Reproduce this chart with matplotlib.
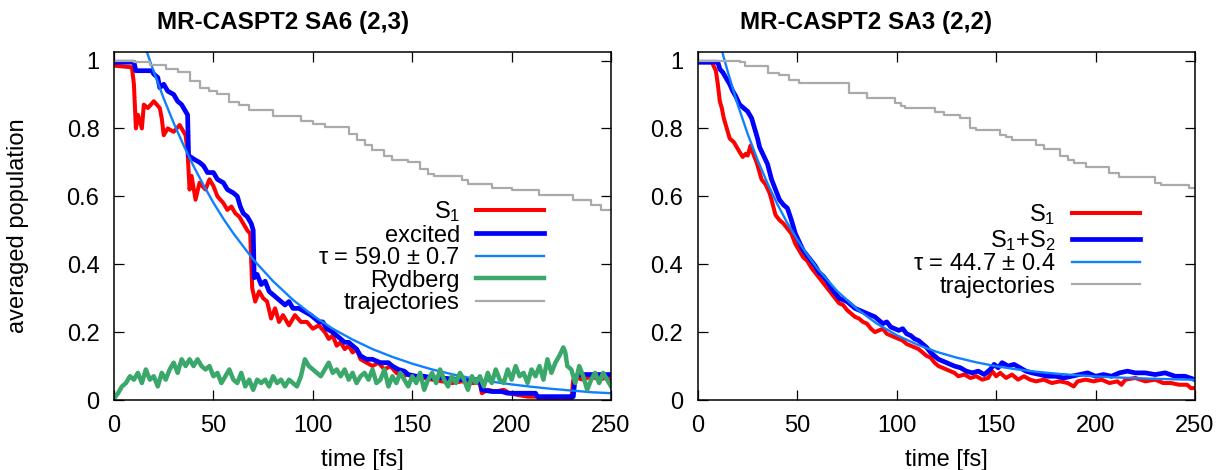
import matplotlib
matplotlib.use('Agg')
import matplotlib.pyplot as plt
from matplotlib.ticker import FormatStrFormatter

plt.rcParams['font.family'] = ['Liberation Sans', 'DejaVu Sans']
plt.rcParams['mathtext.default'] = 'regular'
plt.rcParams['font.size'] = 17

# ---------------- left panel: MR-CASPT2 SA6 (2,3) ----------------
l_s1_t = [0, 9, 10, 11, 12, 14, 15, 17, 20, 23, 24, 25, 27, 30, 33, 36, 37, 38, 39, 41,
          43, 46, 48, 50, 52, 55, 57, 59, 61, 63, 65, 67, 68.5, 69.5, 71, 73, 75, 77, 79, 81,
          83, 85, 88, 91, 94, 97, 100, 103, 106, 108, 110, 112, 114, 116, 118, 120, 122, 124, 127, 130,
          133, 136, 139, 142, 145, 148, 152, 156, 160, 165, 170, 175, 180, 184, 185, 188, 192, 196, 199, 203,
          208, 213, 214, 220, 226, 230, 231, 233, 236, 240, 244, 247, 250]
l_s1_y = [0.985, 0.98, 0.93, 0.80, 0.84, 0.80, 0.87, 0.86, 0.88, 0.86, 0.83, 0.78, 0.80, 0.79, 0.81, 0.78, 0.73, 0.62, 0.66, 0.59,
          0.64, 0.62, 0.65, 0.63, 0.60, 0.58, 0.56, 0.57, 0.55, 0.54, 0.52, 0.50, 0.49, 0.33, 0.29, 0.32, 0.30, 0.29, 0.24, 0.27,
          0.23, 0.25, 0.22, 0.25, 0.23, 0.23, 0.21, 0.22, 0.20, 0.18, 0.19, 0.16, 0.17, 0.15, 0.16, 0.14, 0.15, 0.12, 0.11, 0.10,
          0.11, 0.09, 0.10, 0.08, 0.07, 0.075, 0.06, 0.065, 0.06, 0.055, 0.05, 0.055, 0.05, 0.05, 0.02, 0.03, 0.025, 0.03, 0.02, 0.015,
          0.01, 0.01, 0.0, 0.0, 0.0, 0.0, 0.06, 0.065, 0.06, 0.07, 0.06, 0.065, 0.06]

l_exc_t = [0, 10, 11, 19, 20, 22, 23, 25, 27, 30, 32, 34, 36, 37, 37.5, 40, 43, 45, 47, 50,
           52, 55, 57, 60, 62, 63.5, 65, 67, 69, 70, 70.5, 72, 74, 76, 78, 80, 82, 84, 86, 88,
           90, 93, 96, 99, 101, 103, 105, 107, 110, 112, 114, 116, 118, 120, 122, 124, 127, 130, 134, 138,
           140, 143, 146, 148, 152, 156, 160, 165, 170, 175, 180, 184, 185, 190, 195, 198, 205, 212, 213, 220,
           225, 231, 232, 235, 240, 245, 250]
l_exc_y = [0.995, 0.995, 0.97, 0.97, 0.96, 0.95, 0.92, 0.93, 0.91, 0.90, 0.88, 0.87, 0.85, 0.84, 0.72, 0.71, 0.70, 0.69, 0.67, 0.67,
           0.65, 0.64, 0.62, 0.61, 0.60, 0.57, 0.55, 0.54, 0.52, 0.50, 0.36, 0.37, 0.34, 0.35, 0.32, 0.31, 0.30, 0.29, 0.28, 0.29,
           0.27, 0.27, 0.26, 0.25, 0.24, 0.23, 0.23, 0.21, 0.20, 0.19, 0.18, 0.17, 0.17, 0.16, 0.15, 0.13, 0.12, 0.12, 0.11, 0.11,
           0.10, 0.09, 0.085, 0.075, 0.07, 0.07, 0.065, 0.065, 0.062, 0.06, 0.06, 0.06, 0.03, 0.025, 0.025, 0.02, 0.02, 0.02, 0.01, 0.01,
           0.01, 0.01, 0.07, 0.075, 0.075, 0.075, 0.075]

l_fit_t = [16, 20, 25, 30, 35, 40, 45, 50, 55, 60, 70, 80, 90, 100, 110, 120, 130, 140, 150, 160,
           170, 180, 190, 200, 210, 220, 230, 240, 250]
l_fit_y = [1.034, 0.967, 0.888, 0.816, 0.750, 0.689, 0.633, 0.581, 0.534, 0.491, 0.414, 0.350, 0.295, 0.249, 0.210, 0.178, 0.150, 0.127, 0.107, 0.090,
           0.076, 0.064, 0.054, 0.046, 0.039, 0.033, 0.028, 0.023, 0.020]

l_ryd_t = list(range(0, 226, 2)) + [226, 227, 228, 230, 232, 234, 236, 238, 240, 242, 244, 246, 248, 250]
l_ryd_y = [0.005, 0.02, 0.04, 0.05, 0.07, 0.06, 0.08, 0.05, 0.09, 0.06, 0.07, 0.04, 0.08, 0.06, 0.09, 0.11, 0.08, 0.12, 0.10, 0.12,
           0.10, 0.12, 0.10, 0.09, 0.10, 0.07, 0.08, 0.05, 0.07, 0.09, 0.06, 0.05, 0.08, 0.04, 0.06, 0.03, 0.06, 0.05, 0.06, 0.04,
           0.07, 0.05, 0.06, 0.04, 0.06, 0.05, 0.04, 0.07, 0.12, 0.10, 0.09, 0.08, 0.07, 0.09, 0.11, 0.08, 0.09, 0.07, 0.09, 0.06,
           0.08, 0.05, 0.07, 0.08, 0.06, 0.09, 0.05, 0.06, 0.09, 0.04, 0.07, 0.05, 0.08, 0.06, 0.04, 0.07, 0.05, 0.08, 0.03, 0.06,
           0.08, 0.05, 0.09, 0.06, 0.04, 0.07, 0.05, 0.08, 0.06, 0.03, 0.07, 0.05, 0.07, 0.04, 0.08, 0.05, 0.09, 0.06, 0.05, 0.09,
           0.06, 0.10, 0.07, 0.08, 0.05, 0.09, 0.07, 0.10, 0.06, 0.12, 0.08, 0.11, 0.13,
           0.155, 0.14, 0.10, 0.09, 0.05, 0.10, 0.07, 0.03, 0.06, 0.08, 0.05, 0.08, 0.06, 0.04]

l_traj_t = [0, 10, 18, 26, 32, 38, 43, 48, 52, 58, 63, 68, 80, 94, 100, 106, 118, 122, 126, 130,
            136, 140, 148, 154, 158, 161, 175, 178, 190, 200, 214, 231, 240, 245, 250]
l_traj_y = [1.0, 0.995, 0.988, 0.976, 0.965, 0.94, 0.92, 0.91, 0.90, 0.877, 0.868, 0.853, 0.838, 0.823, 0.814, 0.803, 0.785, 0.765, 0.75, 0.735,
            0.72, 0.706, 0.70, 0.68, 0.667, 0.659, 0.647, 0.637, 0.624, 0.618, 0.603, 0.588, 0.574, 0.559, 0.559]

# ---------------- right panel: MR-CASPT2 SA3 (2,2) ----------------
r_s1_t = [0, 7, 9, 10, 11, 12, 13, 14, 16, 18, 19.5, 21, 22.5, 24, 25, 26.5, 27.5, 29.5, 31, 32,
          34, 36, 37, 39, 41, 43, 45, 47, 49, 51, 53, 55, 57, 59, 61, 63, 65, 67, 69, 71,
          73, 75, 77, 79, 81, 83, 85, 87, 89, 91, 93, 95, 97, 99, 101, 103, 105, 107, 109, 111,
          113, 115, 117, 119, 121, 123, 125, 127, 129, 131, 134, 137, 140, 143, 146, 148, 150, 152, 155, 158,
          161, 164, 167, 170, 174, 178, 182, 186, 189, 191, 195, 199, 203, 207, 211, 213, 215, 220, 225, 230,
          234, 238, 242, 246, 248, 250]
r_s1_y = [0.995, 0.995, 0.97, 0.93, 0.88, 0.86, 0.83, 0.81, 0.77, 0.76, 0.745, 0.73, 0.716, 0.725, 0.72, 0.75, 0.73, 0.70, 0.67, 0.65,
          0.635, 0.61, 0.59, 0.545, 0.53, 0.52, 0.505, 0.49, 0.46, 0.44, 0.42, 0.41, 0.39, 0.375, 0.36, 0.345, 0.33, 0.315, 0.30, 0.285,
          0.28, 0.265, 0.255, 0.245, 0.24, 0.23, 0.225, 0.21, 0.20, 0.205, 0.21, 0.195, 0.19, 0.185, 0.18, 0.175, 0.165, 0.16, 0.155, 0.15,
          0.14, 0.13, 0.125, 0.11, 0.10, 0.095, 0.09, 0.085, 0.08, 0.07, 0.075, 0.065, 0.07, 0.06, 0.065, 0.085, 0.07, 0.08, 0.065, 0.075,
          0.06, 0.07, 0.06, 0.055, 0.06, 0.05, 0.055, 0.05, 0.04, 0.055, 0.06, 0.055, 0.06, 0.05, 0.055, 0.045, 0.06, 0.065, 0.055, 0.06,
          0.05, 0.05, 0.045, 0.045, 0.035, 0.035]

r_s12_t = [0, 10, 11, 12.5, 14, 16, 17.5, 19, 21, 23, 25, 27, 28.5, 30, 31, 33, 35, 37, 39, 41,
           43, 45, 47, 49, 51, 53, 55, 57, 59, 61, 63, 65, 67, 69, 71, 73, 75, 77, 79, 81,
           83, 85, 87, 89, 91, 93, 95, 97, 99, 101, 103, 105, 107, 109, 111, 113, 115, 117, 119, 121,
           123, 125, 127, 129, 132, 135, 138, 141, 144, 147, 149, 151, 153, 156, 159, 162, 165, 168, 172, 176,
           180, 184, 188, 192, 196, 200, 204, 208, 212, 216, 220, 225, 230, 235, 240, 245, 250]
r_s12_y = [0.995, 0.995, 0.975, 0.965, 0.95, 0.93, 0.91, 0.895, 0.87, 0.86, 0.85, 0.83, 0.80, 0.77, 0.745, 0.72, 0.695, 0.65, 0.62, 0.59,
           0.575, 0.565, 0.53, 0.49, 0.465, 0.44, 0.425, 0.41, 0.395, 0.375, 0.365, 0.35, 0.33, 0.315, 0.30, 0.295, 0.29, 0.28, 0.27, 0.265,
           0.26, 0.255, 0.25, 0.245, 0.235, 0.225, 0.23, 0.215, 0.21, 0.205, 0.21, 0.195, 0.19, 0.18, 0.175, 0.165, 0.155, 0.14, 0.13, 0.12,
           0.115, 0.11, 0.105, 0.10, 0.095, 0.085, 0.08, 0.085, 0.075, 0.09, 0.105, 0.095, 0.11, 0.10, 0.105, 0.095, 0.085, 0.08, 0.075, 0.07,
           0.07, 0.065, 0.07, 0.075, 0.08, 0.07, 0.075, 0.07, 0.08, 0.085, 0.08, 0.08, 0.075, 0.08, 0.07, 0.07, 0.06]

r_fit_t = [12, 15, 20, 25, 30, 35, 40, 45, 50, 55, 60, 70, 80, 90, 100, 110, 120, 130, 140, 150,
           160, 170, 180, 190, 200, 210, 220, 230, 240, 250]
r_fit_y = [1.030, 0.967, 0.870, 0.784, 0.707, 0.638, 0.576, 0.521, 0.472, 0.428, 0.388, 0.321, 0.268, 0.225, 0.191, 0.164, 0.142, 0.125, 0.111, 0.0995,
           0.0906, 0.0834, 0.0777, 0.0732, 0.0695, 0.0666, 0.0643, 0.0624, 0.0609, 0.0597]

r_traj_t = [0, 21, 23.5, 35, 41, 46, 51, 76, 85, 99, 102, 104, 119, 124, 132, 137, 140, 152, 155, 158,
            170, 174, 182, 186, 189, 195, 207, 212, 230, 233, 247, 250]
r_traj_y = [1.0, 0.995, 0.985, 0.964, 0.958, 0.944, 0.935, 0.903, 0.89, 0.876, 0.867, 0.859, 0.848, 0.84, 0.83, 0.80, 0.794, 0.78, 0.774, 0.765,
            0.75, 0.74, 0.72, 0.706, 0.697, 0.685, 0.67, 0.656, 0.64, 0.632, 0.624, 0.624]

tau_left = r'$\tau$ = 59.0 $\pm$ 0.7'
tau_right = r'$\tau$ = 44.7 $\pm$ 0.4'

red, blue, fitblue, green, grey = '#ff0000', '#0000ff', '#1080ff', '#3aa86a', '#aaaaaa'

fig = plt.figure(figsize=(12.17, 4.70), dpi=100)
ax1 = fig.add_axes([0.0937, 0.1489, 0.4084, 0.7404])
ax2 = fig.add_axes([0.5735, 0.1489, 0.4084, 0.7404])

ax1.plot(l_s1_t, l_s1_y, color=red, lw=2.9, label='S$_1$')
ax1.plot(l_exc_t, l_exc_y, color=blue, lw=3.4, label='excited')
ax1.plot(l_fit_t, l_fit_y, color=fitblue, lw=1.7, label=tau_left)
ax1.plot(l_ryd_t, l_ryd_y, color=green, lw=3.2, label='Rydberg')
ax1.plot(l_traj_t, l_traj_y, color=grey, lw=1.6, drawstyle='steps-post', label='trajectories')

ax2.plot(r_s1_t, r_s1_y, color=red, lw=2.9, label='S$_1$')
ax2.plot(r_s12_t, r_s12_y, color=blue, lw=3.4, label='S$_1$+S$_2$')
ax2.plot(r_fit_t, r_fit_y, color=fitblue, lw=1.7, label=tau_right)
ax2.plot(r_traj_t, r_traj_y, color=grey, lw=1.6, drawstyle='steps-post', label='trajectories')

for ax in (ax1, ax2):
    ax.set_xlim(0, 250)
    ax.set_ylim(0, 1.025)
    ax.set_xticks([0, 50, 100, 150, 200, 250])
    ax.set_yticks([0, 0.2, 0.4, 0.6, 0.8, 1.0])
    ax.yaxis.set_major_formatter(FormatStrFormatter('%g'))
    ax.tick_params(direction='in', top=True, right=True, length=7, width=0.9, pad=10.5, labelsize=17)
    for s in ax.spines.values():
        s.set_linewidth(1.1)
    ax.set_xlabel('time [fs]', fontsize=17)
    ax.xaxis.label.set_va('baseline')
    ax.xaxis.set_label_coords(0.5, -0.19)

leg1 = ax1.legend(loc='center right', bbox_to_anchor=(0.865, 0.412), frameon=False, markerfirst=False,
                  handlelength=2.88, handletextpad=0.68, labelspacing=0.02, borderpad=0, borderaxespad=0,
                  fontsize=17)
leg2 = ax2.legend(loc='center right', bbox_to_anchor=(0.889, 0.431), frameon=False, markerfirst=False,
                  handlelength=2.88, handletextpad=0.68, labelspacing=0.02, borderpad=0, borderaxespad=0,
                  fontsize=17)

fig.text(283 / 1217, 1 - 22 / 470, 'MR-CASPT2 SA6 (2,3)', ha='center', va='center', fontsize=17.5, fontweight='bold')
fig.text(866 / 1217, 1 - 22 / 470, 'MR-CASPT2 SA3 (2,2)', ha='center', va='center', fontsize=17.5, fontweight='bold')
fig.text(18 / 1217, 1 - 226 / 470, 'averaged population', rotation=90, ha='center', va='center', fontsize=17)

fig.savefig('out.png', dpi=100)
